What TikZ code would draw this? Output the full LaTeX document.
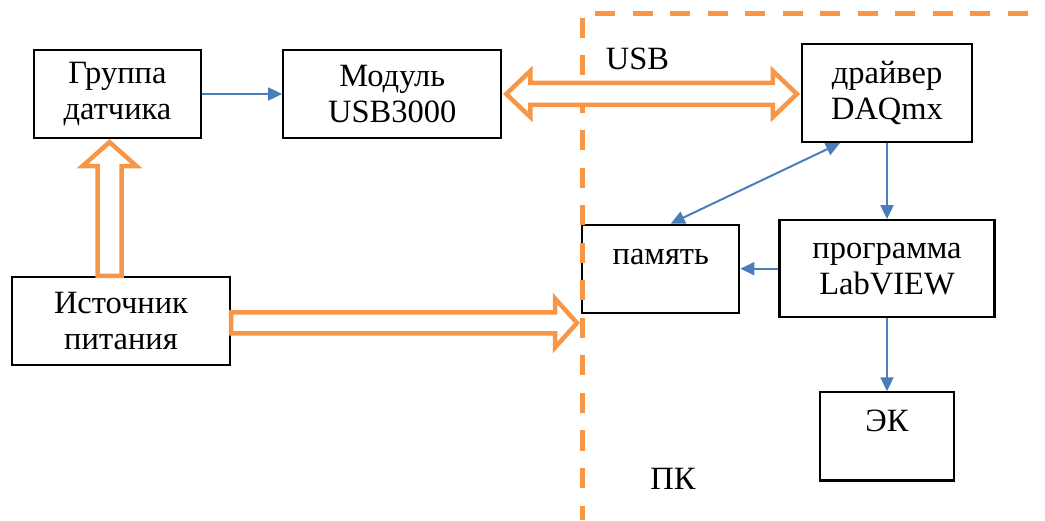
\documentclass[tikz,border=0pt]{standalone}
\usepackage{fontspec}
\setmainfont{Liberation Serif}
\usepackage{tikz}
\usetikzlibrary{arrows.meta, positioning}
\definecolor{pcorange}{RGB}{247, 150, 70}
\definecolor{linkblue}{RGB}{74, 126, 187}

\begin{document}
\begin{tikzpicture}[x=1pt, y=1pt]
\tikzstyle{block} = [rectangle, draw=black, line width=2.2pt, inner sep=0pt, minimum height=88pt, align=center, font=\fontsize{32.5}{36}\selectfont]
\tikzstyle{toptext} = [text height=24pt, text depth=33pt]
\tikzstyle{caption} = [inner sep=0pt, font=\fontsize{32.5}{36}\selectfont]
\tikzstyle{arrow} = [line width=2pt, draw=linkblue, -{Triangle[length=14pt, width=13pt]}]
\tikzstyle{twoway} = [line width=2pt, draw=linkblue, {Triangle[length=14pt, width=13pt]}-{Triangle[length=14pt, width=13pt]}]
\tikzstyle{hollow} = [draw=pcorange, fill=white, line width=4.5pt, line join=miter]
\tikzstyle{border} = [draw=pcorange, line width=5pt, dash pattern=on 20pt off 17.5pt]

\useasboundingbox (0,0) rectangle (1045,520);

\node (gruppa) [block, minimum width=167pt] at (117.5,426) {Группа\\датчика};
\node (modul) [block, minimum width=218pt, right=80pt of gruppa] {Модуль\\USB3000};
\node (istochnik) [block, minimum width=218pt] at (121,199) {Источник\\питания};
\node (draiver) [block, minimum width=170pt, minimum height=98pt] at (887,427) {драйвер\\DAQmx};
\node (prog) [block, minimum width=215pt, minimum height=97pt, below=76pt of draiver] {программа\\LabVIEW};
\node (pamyat) [block, toptext, minimum width=157pt, left=38pt of prog] {память};
\node (ek) [block, toptext, minimum width=134pt, below=73pt of prog] {ЭК};

\node (usb) [caption] at (637.5,461) {USB};
\node (pk) [caption] at (673,41) {ПК};

% PC border
\coordinate (pctop) at (582,502);
\coordinate (pcbottom) at (582,0);
\coordinate (pcleft) at (595,506);
\coordinate (pcright) at (1045,506);
\draw [border] (pctop) -- (pcbottom);
\draw [border] (pcleft) -- (pcright);

\draw [arrow] (gruppa) -- (modul);
\draw [arrow] (draiver) -- (prog);
\draw [arrow] (prog) -- (pamyat);
\draw [arrow] (prog) -- (ek);
\draw [twoway] ([xshift=-47pt]draiver.south) -- ([xshift=10pt]pamyat.north);

% power and USB links
\coordinate (usbL) at ([xshift=4pt]modul.east);
\coordinate (usbR) at ([xshift=-4pt]draiver.west |- modul.east);
\draw [hollow] (usbL) -- ++(24,23) -- ++(0,-12) -- ([shift={(-24,11)}]usbR) -- ++(0,12) -- (usbR) -- ++(-24,-23) -- ++(0,12) -- ([shift={(24,-11)}]usbL) -- ++(0,-12) -- cycle;

\coordinate (upbase) at ([xshift=-11.5pt]istochnik.north);
\coordinate (uptip) at ([yshift=-3pt]upbase |- gruppa.south);
\draw [hollow] ([xshift=-12pt]upbase) -- ([shift={(-12,-24)}]uptip) -- ++(-15,0) -- (uptip) -- ++(27,-24) -- ++(-15,0) -- ([xshift=12pt]upbase) -- cycle;

\coordinate (rightbase) at ([yshift=-2pt]istochnik.east);
\coordinate (righttip) at ([xshift=-5pt]pcbottom |- rightbase);
\draw [hollow] ([yshift=10.5pt]rightbase) -- ([shift={(-22,10.5)}]righttip) -- ++(0,14) -- (righttip) -- ++(-22,-24.5) -- ++(0,14) -- ([yshift=-10.5pt]rightbase) -- cycle;
\end{tikzpicture}
\end{document}
